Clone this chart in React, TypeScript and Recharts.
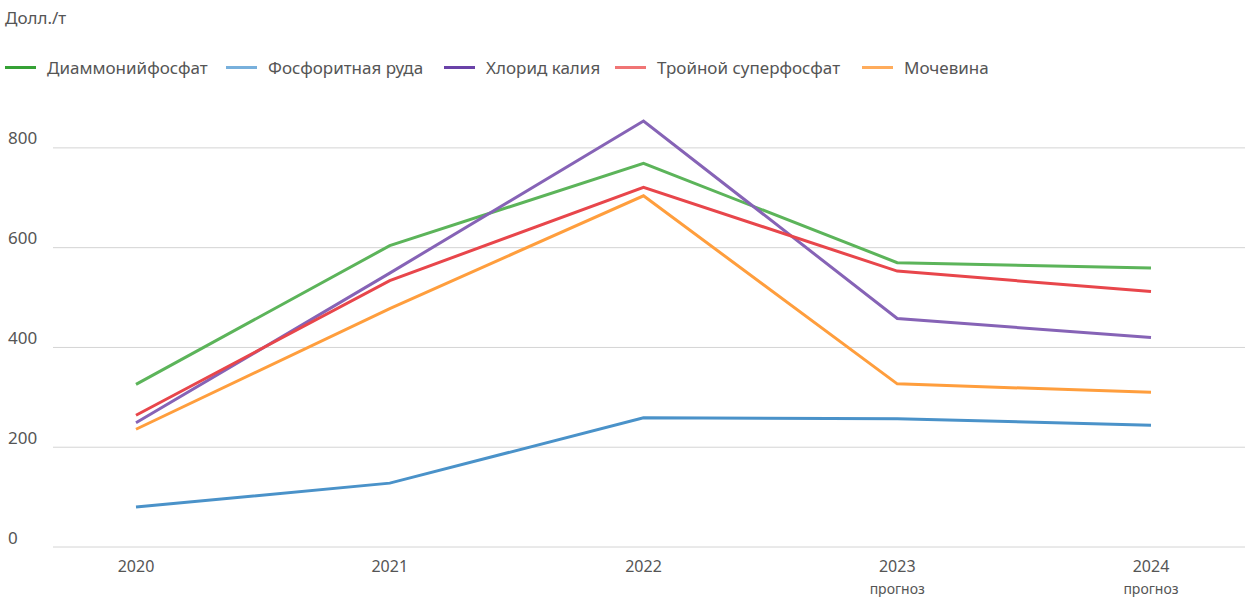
import React from 'react';
import { LineChart, Line, XAxis, YAxis, CartesianGrid } from 'recharts';

const years = ['2020', '2021', '2022', '2023', '2024'];
const yearNotes = ['', '', '', 'прогноз', 'прогноз'];

const diammonium = [326, 604, 769, 570, 559];
const phosphateRock = [80, 128, 259, 257, 244];
const potassiumChloride = [249, 549, 854, 458, 420];
const tripleSuperphosphate = [264, 534, 721, 553, 512];
const urea = [236, 478, 704, 327, 310];

const yTicks = [0, 200, 400, 600, 800];

const series = [
  { key: 'dap', name: 'Диаммонийфосфат', values: diammonium, color: '#5cb45a', legend: '#35a135', lx: 5 },
  { key: 'rock', name: 'Фосфоритная руда', values: phosphateRock, color: '#4a92c9', legend: '#78b0dc', lx: 226 },
  { key: 'kcl', name: 'Хлорид калия', values: potassiumChloride, color: '#8663b6', legend: '#6a42a8', lx: 444 },
  { key: 'tsp', name: 'Тройной суперфосфат', values: tripleSuperphosphate, color: '#e8464b', legend: '#f07575', lx: 615 },
  { key: 'urea', name: 'Мочевина', values: urea, color: '#ff9e3d', legend: '#ffac5c', lx: 862 },
];

const data = years.map((year, i) => {
  const row: Record<string, string | number> = { year, note: yearNotes[i] };
  series.forEach((s) => {
    row[s.key] = s.values[i];
  });
  return row;
});

const FONT = '"Noto Sans", sans-serif';
const TEXT = '#555555';

const YTick = (props: any) => {
  const { y, payload } = props;
  return (
    <text x={8} y={y - 8} fill={TEXT} fontSize={17} fontFamily={FONT} textAnchor="start" dominantBaseline="middle">
      {payload.value}
    </text>
  );
};

const XTick = (props: any) => {
  const { x, payload, index } = props;
  const note = yearNotes[index];
  return (
    <g>
      <text x={x} y={568} fill={TEXT} fontSize={16} fontFamily={FONT} textAnchor="middle" dominantBaseline="middle">
        {payload.value}
      </text>
      {note && (
        <text x={x} y={590} fill={TEXT} fontSize={14} fontFamily={FONT} textAnchor="middle" dominantBaseline="middle">
          {note}
        </text>
      )}
    </g>
  );
};

const App: React.FC = () => {
  return (
    <div style={{ position: 'absolute', left: 0, top: 0, width: 1245, height: 597, background: '#fff', fontFamily: FONT }}>
      <div style={{ position: 'absolute', left: 5, top: 6, fontSize: 17, color: TEXT }}>Долл./т</div>
      {series.map((s) => (
        <div
          key={s.key}
          style={{ position: 'absolute', left: s.lx, top: 56, height: 22, display: 'flex', alignItems: 'center', fontSize: 17, color: TEXT, whiteSpace: 'nowrap' }}
        >
          <span style={{ display: 'inline-block', width: 31, height: 3, background: s.legend, marginRight: 11 }} />
          {s.name}
        </div>
      ))}
      <div style={{ position: 'absolute', left: 0, top: 0 }}>
        <LineChart width={1245} height={597} data={data} margin={{ top: 98, right: 0, left: 0, bottom: 20 }}>
          <CartesianGrid vertical={false} stroke="#d4d4d4" strokeWidth={1} horizontalValues={yTicks} />
          <XAxis
            dataKey="year"
            axisLine={false}
            tickLine={false}
            height={30}
            padding={{ left: 83, right: 94 }}
            tick={<XTick />}
            interval={0}
          />
          <YAxis
            width={53}
            domain={[0, 900]}
            ticks={yTicks}
            axisLine={false}
            tickLine={false}
            tick={<YTick />}
          />
          {series.map((s) => (
            <Line
              key={s.key}
              type="linear"
              dataKey={s.key}
              name={s.name}
              stroke={s.color}
              strokeWidth={3}
              dot={false}
              activeDot={false}
              isAnimationActive={false}
            />
          ))}
        </LineChart>
      </div>
    </div>
  );
};

export default App;
